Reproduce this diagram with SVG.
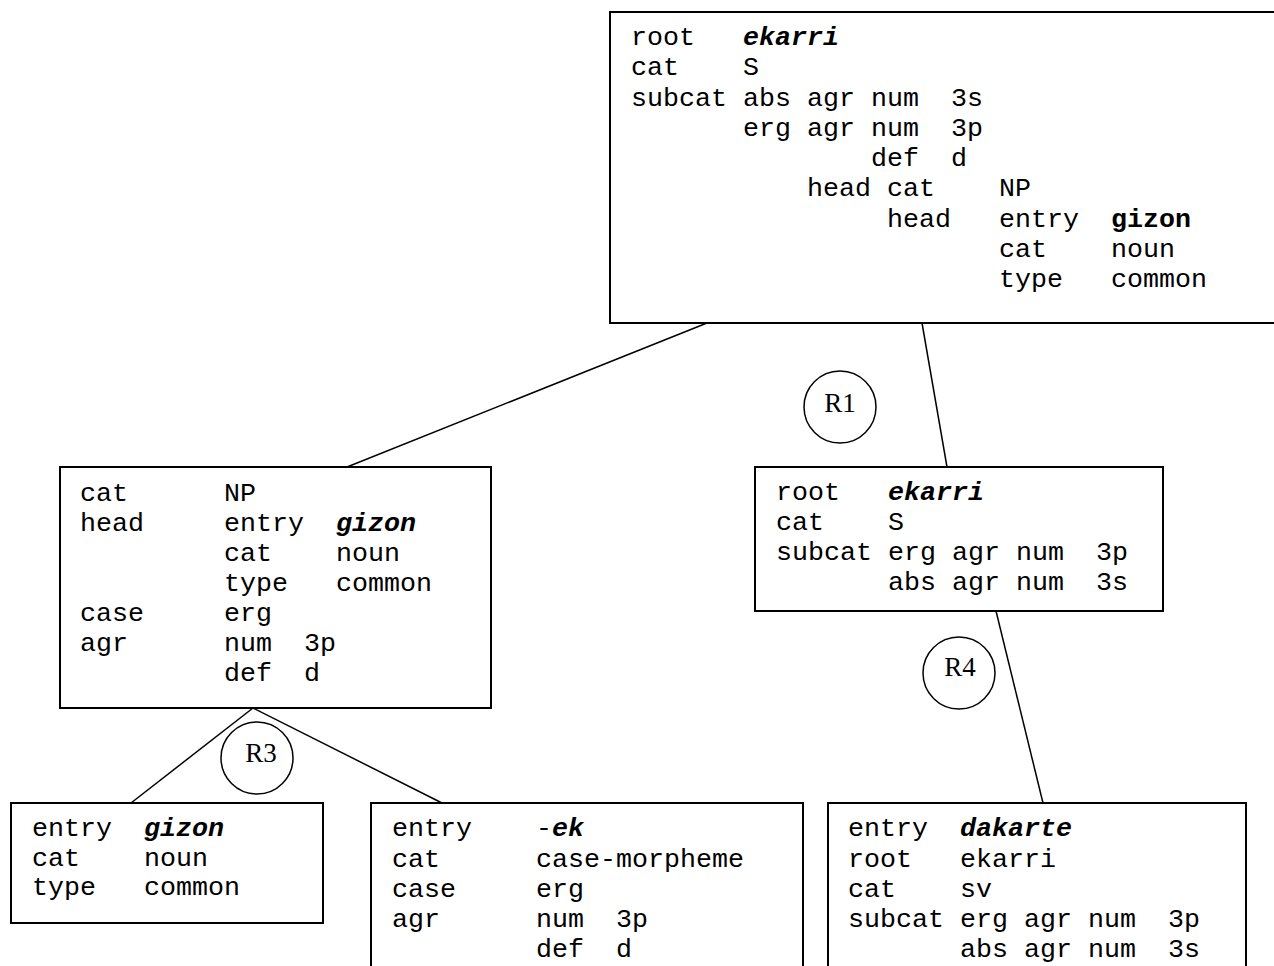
<svg xmlns="http://www.w3.org/2000/svg" width="1274" height="966" viewBox="0 0 1274 966">
<style>
.box{fill:#fff;stroke:#000;stroke-width:2}
.t{font-family:"Liberation Mono","Courier New",monospace;font-size:26.67px;fill:#000}
.bi{font-weight:bold;font-style:italic}
.b{font-weight:bold}
.c{fill:#fff;stroke:#000;stroke-width:1.5}
.r{font-family:"Liberation Serif","Times New Roman",serif;font-size:27px;fill:#000;text-anchor:middle}
#connectors line{stroke:#000;stroke-width:1.5}
</style>
<rect width="1274" height="966" fill="#fff"/>
<g id="connectors">
<line x1="707" y1="323" x2="347" y2="467"/>
<line x1="922" y1="323" x2="947" y2="467"/>
<line x1="996" y1="611" x2="1043" y2="803"/>
<line x1="253" y1="708" x2="131" y2="803"/>
<line x1="253" y1="708" x2="442" y2="803"/>
</g>
<g id="node-top">
<rect class="box" x="610" y="12" width="680" height="311"/>
<g class="t">
<text x="631" y="45">root</text><text x="743" y="45" class="bi">ekarri</text>
<text x="631" y="75">cat</text><text x="743" y="75">S</text>
<text x="631" y="106">subcat</text><text x="743" y="106">abs</text><text x="807" y="106">agr</text><text x="871" y="106">num</text><text x="951" y="106">3s</text>
<text x="743" y="136">erg</text><text x="807" y="136">agr</text><text x="871" y="136">num</text><text x="951" y="136">3p</text>
<text x="871" y="166">def</text><text x="951" y="166">d</text>
<text x="807" y="196">head</text><text x="887" y="196">cat</text><text x="999" y="196">NP</text>
<text x="887" y="227">head</text><text x="999" y="227">entry</text><text x="1111" y="227" class="b">gizon</text>
<text x="999" y="257">cat</text><text x="1111" y="257">noun</text>
<text x="999" y="287">type</text><text x="1111" y="287">common</text>
</g>
</g>
<g id="node-np">
<rect class="box" x="60" y="467" width="431" height="241"/>
<g class="t">
<text x="80" y="501">cat</text><text x="224" y="501">NP</text>
<text x="80" y="531">head</text><text x="224" y="531">entry</text><text x="336" y="531" class="bi">gizon</text>
<text x="224" y="561">cat</text><text x="336" y="561">noun</text>
<text x="224" y="591">type</text><text x="336" y="591">common</text>
<text x="80" y="621">case</text><text x="224" y="621">erg</text>
<text x="80" y="651">agr</text><text x="224" y="651">num</text><text x="304" y="651">3p</text>
<text x="224" y="681">def</text><text x="304" y="681">d</text>
</g>
</g>
<g id="node-s">
<rect class="box" x="755" y="467" width="408" height="144"/>
<g class="t">
<text x="776" y="500">root</text><text x="888" y="500" class="bi">ekarri</text>
<text x="776" y="530">cat</text><text x="888" y="530">S</text>
<text x="776" y="560">subcat</text><text x="888" y="560">erg</text><text x="952" y="560">agr</text><text x="1016" y="560">num</text><text x="1096" y="560">3p</text>
<text x="888" y="590">abs</text><text x="952" y="590">agr</text><text x="1016" y="590">num</text><text x="1096" y="590">3s</text>
</g>
</g>
<g id="node-gizon">
<rect class="box" x="11" y="803" width="312" height="120"/>
<g class="t">
<text x="32" y="836">entry</text><text x="144" y="836" class="bi">gizon</text>
<text x="32" y="866">cat</text><text x="144" y="866">noun</text>
<text x="32" y="895">type</text><text x="144" y="895">common</text>
</g>
</g>
<g id="node-ek">
<rect class="box" x="371" y="803" width="432" height="180"/>
<g class="t">
<text x="392" y="836">entry</text><text x="536" y="836">-<tspan class="bi">ek</tspan></text>
<text x="392" y="867">cat</text><text x="536" y="867">case-morpheme</text>
<text x="392" y="897">case</text><text x="536" y="897">erg</text>
<text x="392" y="927">agr</text><text x="536" y="927">num</text><text x="616" y="927">3p</text>
<text x="536" y="957">def</text><text x="616" y="957">d</text>
</g>
</g>
<g id="node-dakarte">
<rect class="box" x="828" y="803" width="418" height="180"/>
<g class="t">
<text x="848" y="836">entry</text><text x="960" y="836" class="bi">dakarte</text>
<text x="848" y="867">root</text><text x="960" y="867">ekarri</text>
<text x="848" y="897">cat</text><text x="960" y="897">sv</text>
<text x="848" y="927">subcat</text><text x="960" y="927">erg</text><text x="1024" y="927">agr</text><text x="1088" y="927">num</text><text x="1168" y="927">3p</text>
<text x="960" y="957">abs</text><text x="1024" y="957">agr</text><text x="1088" y="957">num</text><text x="1168" y="957">3s</text>
</g>
</g>
<g id="label-R1">
<circle class="c" cx="840" cy="407" r="36"/>
<text class="r" x="840" y="412">R1</text>
</g>
<g id="label-R4">
<circle class="c" cx="959" cy="673" r="36"/>
<text class="r" x="960" y="676">R4</text>
</g>
<g id="label-R3">
<circle class="c" cx="257" cy="758" r="36"/>
<text class="r" x="261" y="762">R3</text>
</g>
</svg>
